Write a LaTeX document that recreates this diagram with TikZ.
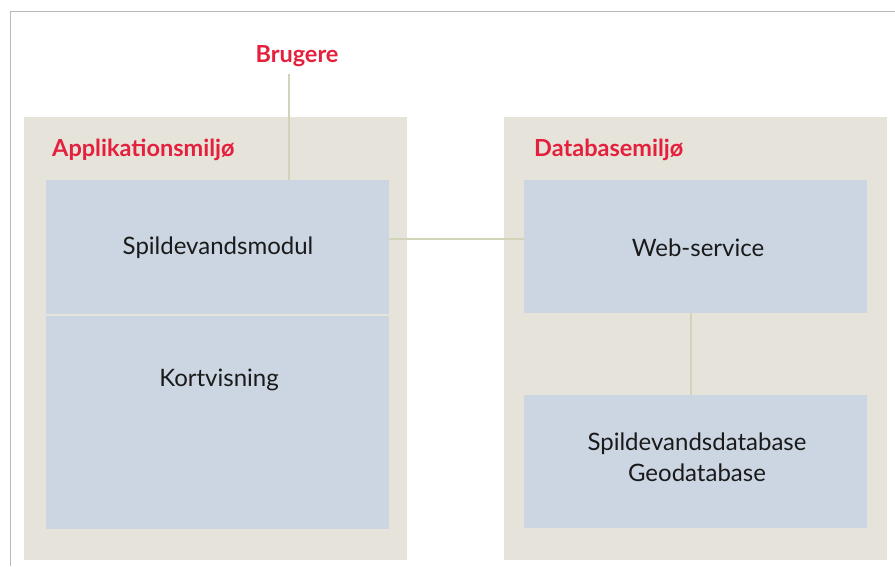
\documentclass[tikz,border=0pt]{standalone}
\usepackage{fontspec}
\setmainfont{Lato}
\usepackage{tikz}
\usetikzlibrary{positioning,calc}
\definecolor{panel}{RGB}{230,228,218}
\definecolor{boxblue}{RGB}{203,214,226}
\definecolor{link}{RGB}{208,212,184}
\definecolor{head}{RGB}{228,32,60}
\definecolor{frame}{RGB}{185,185,190}
\definecolor{ink}{RGB}{26,26,26}

\begin{document}
\begin{tikzpicture}[x=1pt,y=-1pt,
  panelbox/.style={fill=panel,draw=none},
  bluebox/.style={fill=boxblue,draw=none,inner sep=0pt,anchor=north west},
  boxtext/.style={font=\fontsize{24}{31}\selectfont,text=ink,align=center},
  headtext/.style={font=\fontsize{23.5}{28}\selectfont\bfseries,text=head,inner sep=0pt},
  link/.style={draw=link,line width=2.2pt}]
  \useasboundingbox (0,0) rectangle (895,566);
  % outer frame, top and left only
  \draw[frame,line width=1.5pt] (10.5,566) -- (10.5,11.5) -- (895,11.5);
  % the two environments
  \fill[panelbox] (24,117) rectangle (407,560);
  \fill[panelbox] (504,117) rectangle (887,560);
  \node[headtext,anchor=west] (appl) at (52,150) {Applikationsmiljø};
  \node[headtext,anchor=west] (dbmil) at (534,150) {Databasemiljø};
  % blue boxes
  \node[bluebox,minimum width=343pt,minimum height=134pt] (modul) at (46,180) {};
  \node[bluebox,minimum width=343pt,minimum height=213pt] (kort) at (46,316) {};
  \node[bluebox,minimum width=343pt,minimum height=133pt] (web) at (524,180) {};
  \node[bluebox,minimum width=343pt,minimum height=133pt] (db) at (524,395) {};
  \node[boxtext] (modultxt) at (218,248) {Spildevandsmodul};
  \node[boxtext] (korttxt) at (219,380) {Kortvisning};
  \node[boxtext] (webtxt) at (698,248) {Web-service};
  \node[boxtext] (dbtxt) at (697,457) {Spildevandsdatabase\\Geodatabase};
  % users and links
  \node[headtext] (brugere) at (297,56) {Brugere};
  \coordinate (brugfoot) at (289,74);
  \coordinate (modulport) at (389,239);
  \coordinate (webport) at (691,313);
  \draw[link] (brugfoot) -- (brugfoot |- modul.north);
  \draw[link] (modulport) -- (modulport -| web.west);
  \draw[link] (webport) -- (webport |- db.north);
\end{tikzpicture}
\end{document}
